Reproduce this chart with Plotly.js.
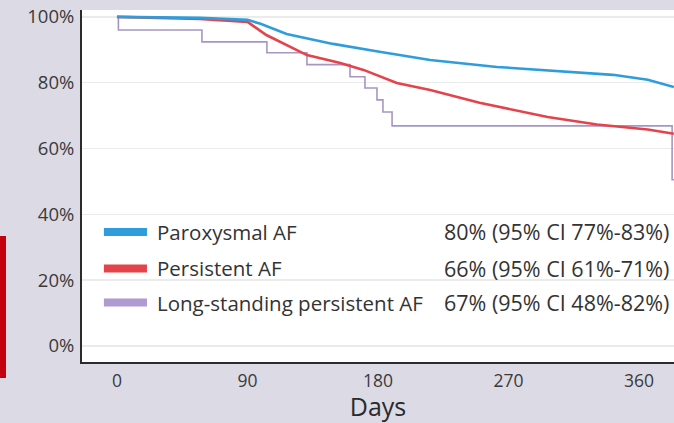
<!DOCTYPE html>
<html>
<head>
<meta charset="utf-8">
<script src="https://cdn.plot.ly/plotly-3.0.1.min.js"></script>
<style>
html,body{margin:0;padding:0;background:#dcdae5;}
#chart{width:674px;height:423px;}
</style>
</head>
<body>
<div id="chart"></div>
<script>
// Series data (days, % free from recurrence)
const parDays = [0, 57, 90, 99, 117, 149, 181, 216, 262, 308, 342, 366, 384];
const parVals = [100, 99.7, 99.1, 97.9, 94.8, 91.8, 89.4, 86.9, 84.8, 83.3, 82.4, 80.9, 78.7];

const perDays = [0, 57, 90, 103, 131, 154, 170, 193, 216, 250, 297, 331, 366, 384];
const perVals = [100, 99.4, 98.5, 94.5, 88.4, 86.0, 83.9, 79.9, 77.8, 73.9, 69.6, 67.3, 65.8, 64.5];

const lspDays = [0, 1, 58.6, 103.4, 131, 160.7, 171, 179.3, 183.4, 189.7, 382.8, 385];
const lspVals = [100, 96.0, 92.4, 89.1, 85.5, 81.8, 78.4, 74.8, 71.1, 66.9, 50.5, 50.5];

const seriesNames = ["Paroxysmal AF", "Persistent AF", "Long-standing persistent AF"];
const seriesCI = ["80% (95% CI 77%-83%)", "66% (95% CI 61%-71%)", "67% (95% CI 48%-82%)"];
const xTicks = [0, 90, 180, 270, 360];
const yTicks = [0, 20, 40, 60, 80, 100];
const yTickText = ["0%", "20%", "40%", "60%", "80%", "100%"];

const colors = ["#2f9ddb", "#e5434b", "#b09ad2"];
const legendY = [34.65, 23.56, 13.22];
const FONT = "'Open Sans', sans-serif";

const traces = [
  {x: lspDays, y: lspVals, mode: "lines", line: {color: "#a796c4", width: 1.6, shape: "hv"}, showlegend: false},
  {x: perDays, y: perVals, mode: "lines", line: {color: colors[1], width: 2.6}, showlegend: false},
  {x: parDays, y: parVals, mode: "lines", line: {color: colors[0], width: 2.6}, showlegend: false}
];

const shapes = [];
const annotations = [];
for (let i = 0; i < 3; i++) {
  shapes.push({type: "rect", xref: "x", yref: "y", x0: -9.0, x1: 20.7, y0: legendY[i] - 1.2, y1: legendY[i] + 1.2,
    fillcolor: colors[i], line: {width: 0}});
  annotations.push({xref: "x", yref: "y", x: 26.2, y: legendY[i], text: seriesNames[i], showarrow: false,
    xanchor: "left", yanchor: "middle", font: {family: FONT, size: 20.5, color: "#333"}});
  annotations.push({xref: "x", yref: "y", x: 224.1, y: legendY[i], text: seriesCI[i], showarrow: false,
    xanchor: "left", yanchor: "middle", font: {family: FONT, size: 21.5, color: "#333"}});
}
// red side bar (cropped element at left edge)
shapes.push({type: "rect", xref: "paper", yref: "paper", x0: -0.1385, x1: -0.1284, y0: -0.0455, y1: 0.358,
  fillcolor: "#c4000f", line: {width: 0}});

const layout = {
  width: 674, height: 423,
  margin: {l: 82, r: 0, t: 10, b: 61},
  paper_bgcolor: "#dcdae5",
  plot_bgcolor: "#ffffff",
  font: {family: FONT, color: "#333"},
  xaxis: {
    range: [-24.1, 384.1], tickvals: xTicks, ticktext: xTicks.map(String),
    showgrid: false, zeroline: false, showline: true, linecolor: "#2b2b2b", linewidth: 2,
    ticks: "", tickfont: {size: 17.5, color: "#3a3a3a"}, ticklabeloverflow: "allow", ticklabelstandoff: 2,
    title: {text: "Days", font: {size: 25, color: "#2a2a2a"}, standoff: 4}
  },
  yaxis: {
    range: [-4.86, 102.1], tickvals: yTicks, ticktext: yTickText,
    showgrid: true, gridcolor: "#ebebeb", gridwidth: 1.5, zeroline: false,
    showline: true, linecolor: "#2b2b2b", linewidth: 2,
    ticks: "", tickfont: {size: 18.5, color: "#3a3a3a"}, ticklabelstandoff: 2
  },
  shapes: shapes,
  annotations: annotations,
  showlegend: false
};

Plotly.newPlot("chart", traces, layout, {displayModeBar: false, staticPlot: true});
</script>
</body>
</html>
